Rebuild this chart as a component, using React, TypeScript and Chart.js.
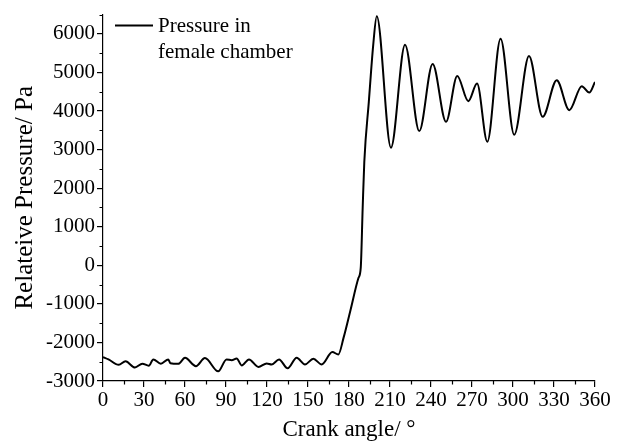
import React, { useEffect, useRef } from "react";
import { Chart, registerables } from "chart.js";

Chart.register(...registerables);

const seriesLabel = "Pressure in\nfemale chamber";
const crankAngles = [
  0, 4, 11.5, 16.5, 23.4, 28.8, 33.5, 36.8, 42.3, 47.8, 49.3, 55.1, 60, 68, 74.6, 84.3,
  90.4, 94.2, 97.8, 101.5, 106.8, 113.7, 119.8, 123.4, 128.8, 135.1, 141.7, 147.8, 153.9,
  160, 167.8, 172.2, 176, 180.9, 186.9, 188.6, 190, 191.2, 194.5, 197.7, 200.3, 210.7,
  221.0, 231.4, 241.2, 251.0, 259.2, 267.3, 273.7, 281.2, 290.9, 300.9, 311.7, 321.7,
  332.0, 341.2, 350.3, 355.8, 360,
];
const pressures = [
  -2380, -2440, -2580, -2490, -2650, -2550, -2605, -2440, -2555, -2440, -2540, -2554, -2400,
  -2615, -2405, -2750, -2440, -2460, -2415, -2595, -2440, -2635, -2545, -2570, -2441, -2672,
  -2398, -2569, -2424, -2569, -2250, -2311, -1882, -1191, -330, -60, 1479, 2687, 4238, 5704,
  6460, 3050, 5720, 3480, 5220, 3720, 4910, 4256, 4711, 3204, 5874, 3385, 5427, 3850, 4799,
  4023, 4644, 4478, 4755,
];
const xMajorTicks = [0, 30, 60, 90, 120, 150, 180, 210, 240, 270, 300, 330, 360];
const xMinorTicks = [15, 45, 75, 105, 135, 165, 195, 225, 255, 285, 315, 345];
const yMajorTicks = [-3000, -2000, -1000, 0, 1000, 2000, 3000, 4000, 5000, 6000];
const yMinorTicks = [-2500, -1500, -500, 500, 1500, 2500, 3500, 4500, 5500, 6500];

const FONT = "'Liberation Serif', 'Times New Roman', serif";

const minorTicksPlugin = {
  id: "minorTicks",
  afterDraw(chart: any) {
    const { ctx, chartArea, scales } = chart;
    ctx.save();
    ctx.strokeStyle = "#000";
    ctx.lineWidth = 1.2;
    ctx.beginPath();
    for (const v of yMinorTicks) {
      const py = Math.round(scales.y.getPixelForValue(v)) + 0.5;
      ctx.moveTo(chartArea.left - 3.5, py);
      ctx.lineTo(chartArea.left, py);
    }
    for (const v of xMinorTicks) {
      const px = Math.round(scales.x.getPixelForValue(v)) + 0.5;
      ctx.moveTo(px, chartArea.bottom);
      ctx.lineTo(px, chartArea.bottom + 3.5);
    }
    ctx.stroke();
    ctx.restore();
  },
};

const legendPlugin = {
  id: "customLegend",
  afterDraw(chart: any) {
    const { ctx, chartArea } = chart;
    const ds = chart.data.datasets[0];
    const lines = String(ds.label).split("\n");
    const x0 = chartArea.left + 12;
    const y0 = chartArea.top + 11;
    ctx.save();
    ctx.strokeStyle = ds.borderColor;
    ctx.lineWidth = 2;
    ctx.beginPath();
    ctx.moveTo(x0, y0);
    ctx.lineTo(x0 + 38, y0);
    ctx.stroke();
    ctx.fillStyle = "#000";
    ctx.font = `21px ${FONT}`;
    ctx.textBaseline = "middle";
    ctx.textAlign = "left";
    lines.forEach((t, i) => ctx.fillText(t, x0 + 43, y0 + 1 + i * 26));
    ctx.restore();
  },
};

export default function App() {
  const ref = useRef<HTMLCanvasElement>(null);
  useEffect(() => {
    document.body.style.margin = "0";
    const chart = new Chart(ref.current!, {
      type: "line",
      data: {
        datasets: [
          {
            label: seriesLabel,
            data: crankAngles.map((a, i) => ({ x: a, y: pressures[i] })),
            borderColor: "#000",
            borderWidth: 2,
            pointRadius: 0,
            fill: false,
            cubicInterpolationMode: "monotone",
          },
        ],
      },
      options: {
        animation: false,
        responsive: false,
        layout: { padding: { top: 12, right: 26, left: 0, bottom: 0 } },
        plugins: { legend: { display: false }, tooltip: { enabled: false } },
        scales: {
          x: {
            type: "linear",
            min: 0,
            max: 360,
            afterBuildTicks: (s: any) => {
              s.ticks = xMajorTicks.map((v) => ({ value: v }));
            },
            afterFit: (s: any) => {
              s.height = 62;
            },
            border: { display: true, color: "#000", width: 1.2 },
            grid: { drawOnChartArea: false, drawTicks: true, tickLength: 6, color: "#000", lineWidth: 1.2 },
            ticks: {
              color: "#000",
              font: { family: FONT, size: 21 },
              padding: 1,
              maxRotation: 0,
              autoSkip: false,
              callback: (v: any) => String(v),
            },
            title: {
              display: true,
              text: "Crank angle/ °",
              color: "#000",
              font: { family: FONT, size: 23 },
              padding: { top: 0, bottom: -1 },
            },
          },
          y: {
            type: "linear",
            min: -3000,
            max: 6500,
            afterBuildTicks: (s: any) => {
              s.ticks = yMajorTicks.map((v) => ({ value: v }));
            },
            afterFit: (s: any) => {
              s.width = 103;
            },
            border: { display: true, color: "#000", width: 1.2 },
            grid: { drawOnChartArea: false, drawTicks: true, tickLength: 6, color: "#000", lineWidth: 1.2 },
            ticks: {
              color: "#000",
              font: { family: FONT, size: 21 },
              padding: 2,
              autoSkip: false,
              callback: (v: any) => String(v),
            },
            title: {
              display: true,
              text: "Relateive Pressure/ Pa",
              color: "#000",
              font: { family: FONT, size: 25 },
              padding: { top: 10, bottom: 0 },
            },
          },
        },
      },
      plugins: [minorTicksPlugin, legendPlugin],
    } as any);
    return () => chart.destroy();
  }, []);
  return (
    <div style={{ position: "fixed", left: 0, top: 0, width: 621, height: 443, background: "#fff" }}>
      <canvas ref={ref} width={621} height={443} />
    </div>
  );
}
